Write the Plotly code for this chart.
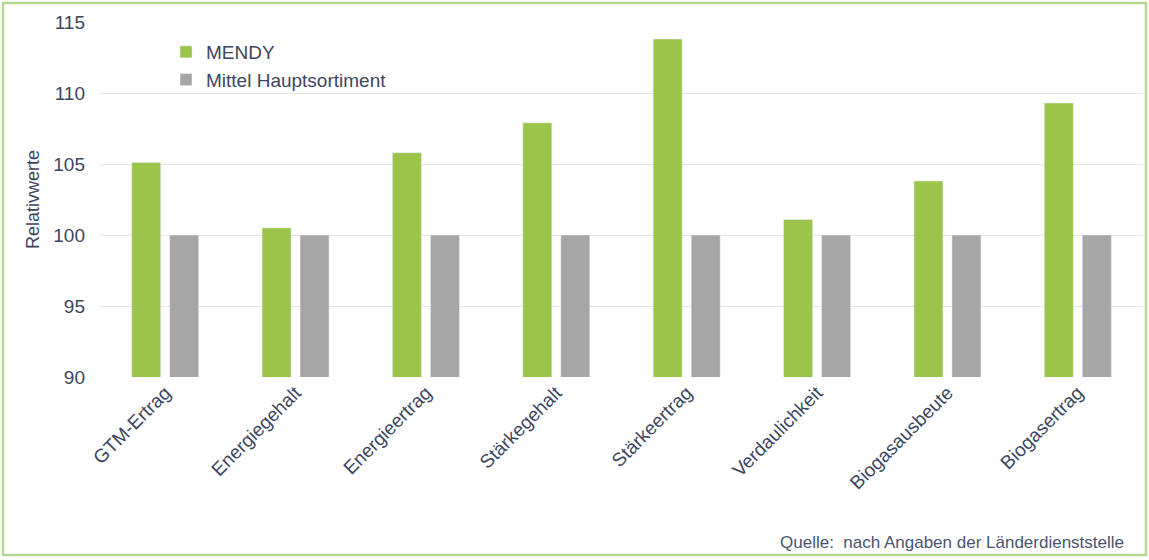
import plotly.graph_objects as go

categories = ["GTM-Ertrag", "Energiegehalt", "Energieertrag", "Stärkegehalt",
              "Stärkeertrag", "Verdaulichkeit", "Biogasausbeute", "Biogasertrag"]
mendy = [105.1, 100.5, 105.8, 107.9, 113.8, 101.1, 103.8, 109.3]
mittel = [100, 100, 100, 100, 100, 100, 100, 100]
y_ticks = [90, 95, 100, 105, 110, 115]

W, H = 1149, 560
L, R, T, B = 100, 6, 22, 183
pw, ph = W - L - R, H - T - B

def px_x(x):
    return (x - L) / pw

def px_y(y):
    return (H - B - y) / ph

font_family = "Liberation Sans, Arial, sans-serif"
text_col = "#3d4660"

fig = go.Figure()
fig.add_trace(go.Bar(x=categories, y=mendy, name="MENDY", marker_color="#9bc54a"))
fig.add_trace(go.Bar(x=categories, y=mittel, name="Mittel Hauptsortiment",
                     marker_color="#a6a6a6"))

fig.update_layout(
    width=W, height=H,
    margin=dict(l=L, r=R, t=T, b=B),
    paper_bgcolor="white", plot_bgcolor="white",
    barmode="group", bargap=0.417, bargroupgap=0.237,
    font=dict(family=font_family, color=text_col, size=19),
    showlegend=True,
    legend=dict(x=px_x(166), y=px_y(33), xanchor="left", yanchor="top",
                bgcolor="rgba(0,0,0,0)", font=dict(size=19, color=text_col),
                itemwidth=30, tracegroupgap=0),
    xaxis=dict(tickangle=-45, showgrid=False, showline=False, ticks="",
               tickfont=dict(size=19, color=text_col)),
    yaxis=dict(range=[90, 115], tickvals=y_ticks, showgrid=True,
               gridcolor="#e3e6ea", gridwidth=1, zeroline=False, showline=False,
               ticks="", ticklabelstandoff=14,
               tickfont=dict(size=19, color=text_col),
               title=dict(text="Relativwerte", font=dict(size=18, color=text_col),
                          standoff=8)),
    shapes=[dict(type="rect", xref="paper", yref="paper",
                 x0=px_x(3), x1=px_x(1146), y0=px_y(555), y1=px_y(3),
                 line=dict(color="#b5d78f", width=2.5), fillcolor="rgba(0,0,0,0)",
                 layer="below")],
    annotations=[dict(text="Quelle:  nach Angaben der Länderdienststelle",
                      xref="paper", yref="paper", x=px_x(1126), y=px_y(542),
                      xanchor="right", yanchor="middle", showarrow=False,
                      font=dict(size=17, color="#4a5470"))],
)

fig.write_html("out.html", config={"displayModeBar": False},
               post_script="document.body.style.margin='0';document.body.style.overflow='hidden';")
